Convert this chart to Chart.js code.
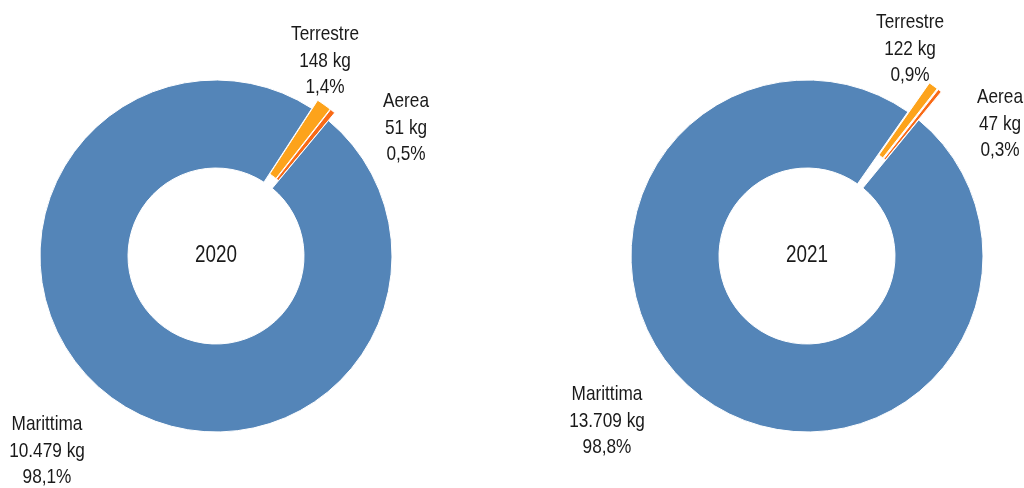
<!DOCTYPE html>
<html><head><meta charset="utf-8">
<script src="https://cdn.jsdelivr.net/npm/chart.js@4.4.1/dist/chart.umd.min.js"></script>
<style>
html,body{margin:0;padding:0;background:#fff;width:1024px;height:488px;overflow:hidden}
.box{position:absolute;top:0;height:488px}
</style></head><body>
<div class="box" style="left:0;width:432px"><canvas id="c1"></canvas></div>
<div class="box" style="left:512px;width:590px"><canvas id="c2"></canvas></div>
<script>
const categories = ['Terrestre', 'Aerea', 'Marittima'];
const years = ['2020', '2021'];
const values2020 = [148, 51, 10479];
const values2021 = [122, 47, 13709];
const colors = ['#FDA31B', '#F96A16', '#5485B8'];

const FONT = '"Liberation Sans", Arial, sans-serif';
const NARROW = 0.82;

function fmtNum(v){ return v.toString().replace(/\B(?=(\d{3})+(?!\d))/g, '.'); }
function fmtPct(v,t){ return (v/t*100).toFixed(1).replace('.', ',') + '%'; }

function narrowText(ctx, t, x, y){
  ctx.save();
  ctx.translate(x, y);
  ctx.scale(NARROW, 1);
  ctx.fillText(t, 0, 0);
  ctx.restore();
}

const explodePlugin = {
  id: 'explode',
  beforeDatasetsDraw(chart, args, opts){
    const ca = chart.chartArea;
    const cx = (ca.left + ca.right) / 2, cy = (ca.top + ca.bottom) / 2;
    chart.getDatasetMeta(0).data.forEach((a, i) => {
      const d = opts.dist[i] || 0;
      const mid = (a.startAngle + a.endAngle) / 2;
      a.x = cx + Math.cos(mid) * d;
      a.y = cy + Math.sin(mid) * d;
    });
  }
};

const labelPlugin = {
  id: 'labels',
  afterDatasetsDraw(chart, args, opts){
    const ctx = chart.ctx;
    const ca = chart.chartArea;
    const cx = (ca.left + ca.right) / 2, cy = (ca.top + ca.bottom) / 2;
    const data = chart.data.datasets[0].data;
    const total = data.reduce((a,b)=>a+b,0);
    ctx.save();
    ctx.fillStyle = '#1a1a1a';
    ctx.textAlign = 'center';
    ctx.textBaseline = 'middle';
    ctx.font = '23px ' + FONT;
    narrowText(ctx, opts.year, cx, cy);
    ctx.font = '21px ' + FONT;
    chart.data.labels.forEach((lab,i)=>{
      const p = opts.pos[i];
      const x = cx + p[0], y = cy + p[1];
      const lines = [lab, fmtNum(data[i]) + ' kg', fmtPct(data[i], total)];
      lines.forEach((t,k)=>narrowText(ctx, t, x, y + (k-1)*26.7));
    });
    ctx.restore();
  }
};

function make(id, values, year, rotation, dist, pos){
  return new Chart(document.getElementById(id), {
    type: 'doughnut',
    data: {
      labels: categories,
      datasets: [{
        data: values,
        backgroundColor: colors,
        borderColor: '#ffffff',
        borderWidth: 1,
        clip: false
      }]
    },
    options: {
      responsive: true,
      maintainAspectRatio: false,
      animation: false,
      rotation: rotation,
      cutout: '50%',
      radius: 176,
      layout: { padding: { top: 24 } },
      plugins: {
        legend: { display: false },
        tooltip: { enabled: false },
        explode: { dist: dist },
        labels: { year: year, pos: pos }
      },
      events: []
    },
    plugins: [explodePlugin, labelPlugin]
  });
}

make('c1', values2020, years[0], 33, [10, 10, 0],
  [[109,-195],[190,-128],[-169,195]]);
make('c2', values2021, years[1], 35, [36, 36, 0],
  [[103,-207],[193,-132],[-200,165]]);
</script>
</body></html>
